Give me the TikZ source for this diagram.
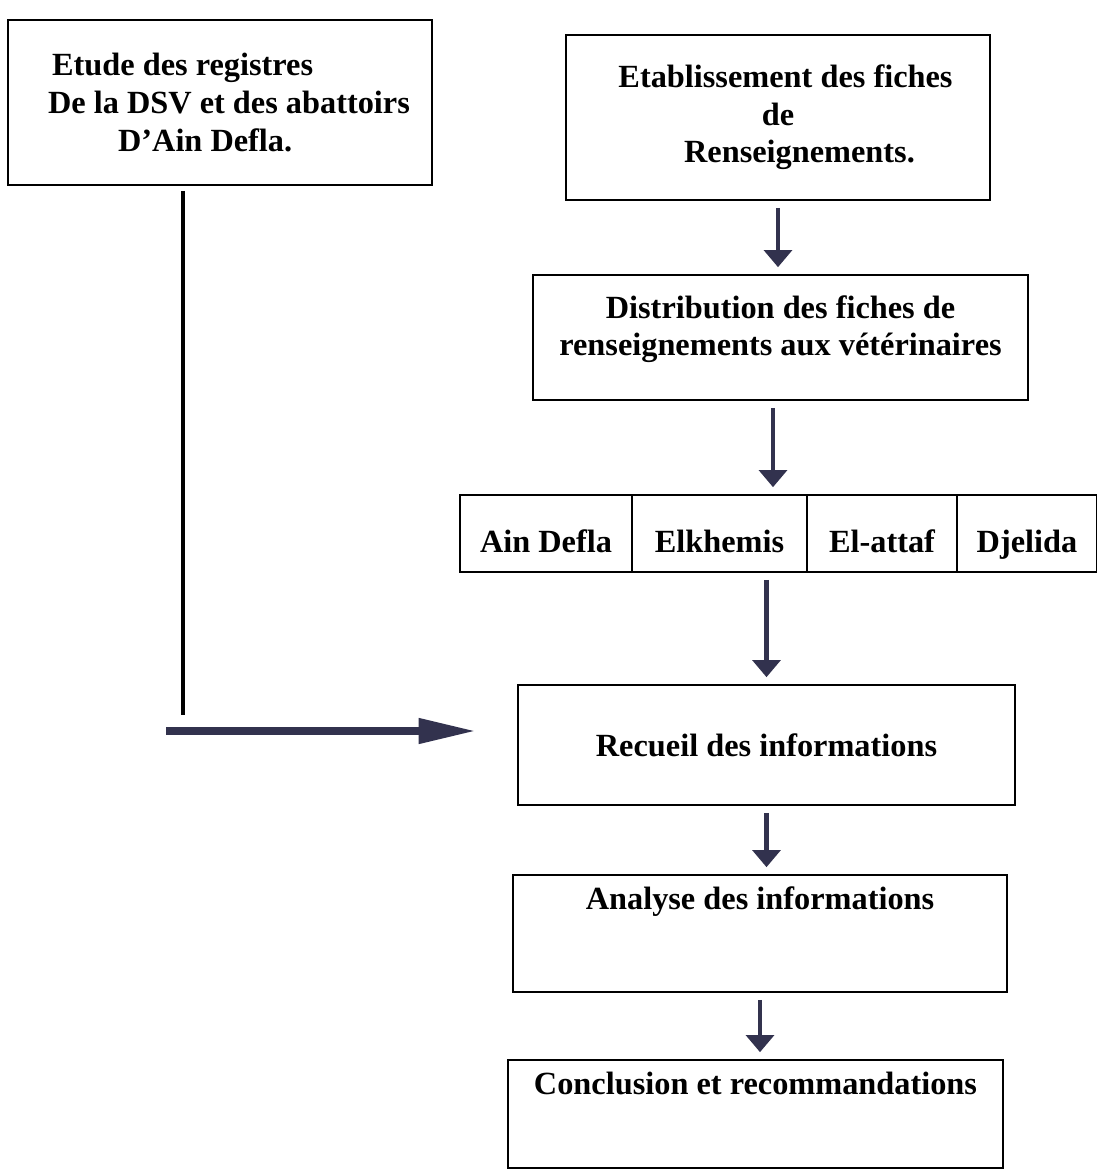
\documentclass[tikz,border=0pt]{standalone}
\usepackage{fontspec}
\setmainfont{Liberation Serif}
\usepackage{tikz}
\usetikzlibrary{arrows.meta}

\definecolor{flecheColor}{RGB}{50,50,78}

\begin{document}
\begin{tikzpicture}[x=0.02cm,y=-0.02cm,
  font=\fontsize{18.4}{21.4}\selectfont\bfseries,
  box/.style={rectangle,draw,line width=0.9pt,inner sep=2pt},
  cell/.style={box,minimum height=1.54cm,text height=0.9cm,text depth=0.16cm},
  arr/.style={draw=flecheColor,line width=2.6pt,shorten >=4pt,shorten <=4pt,
    -{Triangle[width=0.55cm,length=0.34cm]}},
  bigarr/.style={draw=flecheColor,line width=4.4pt,
    -{Triangle[width=0.48cm,length=1.15cm]}}]
  \useasboundingbox (0,0) rectangle (1097,1173);

  \node[box,minimum width=8.48cm,minimum height=3.3cm,align=left] (etude) at (220,102.5)
    {\hspace*{0.44cm}Etude des registres\\\hspace*{0.36cm}De la DSV et des abattoirs\\\hspace*{1.76cm}D'Ain Defla.};
  \node[box,minimum width=8.48cm,minimum height=3.3cm,align=center] (fiches) at (778,117.5)
    {\hspace*{0.3cm}Etablissement des fiches\\de\hspace*{0.4cm}\\\hspace*{0.86cm}Renseignements.};
  \node[box,minimum width=9.9cm,minimum height=2.5cm,
    label={[anchor=north,yshift=-0.3cm,align=center]north:Distribution des fiches de\\renseignements aux vétérinaires}] (distrib) at (780.5,337.5) {};

  % les quatre localites
  \node[cell,minimum width=3.44cm] (ain) at (546,533.5) {Ain Defla};
  \node[cell,minimum width=3.5cm] (khemis) at (719.5,533.5) {Elkhemis};
  \node[cell,minimum width=3.0cm] (attaf) at (882,533.5) {El-attaf};
  \node[cell,minimum width=2.8cm] (djelida) at (1027,533.5) {Djelida};

  \node[box,minimum width=9.94cm,minimum height=2.4cm] (recueil) at (766.5,745)
    {Recueil des informations};
  \node[box,minimum width=9.88cm,minimum height=2.34cm,
    label={[anchor=north,yshift=-0.12cm]north:Analyse des informations}] (analyse) at (760,933.5) {};
  \node[box,minimum width=9.9cm,minimum height=2.16cm,
    label={[anchor=north,yshift=-0.14cm]north:Conclusion et recommandations}] (conclusion) at (755.5,1114) {};

  \coordinate (coin) at (166,731);
  \coordinate (entree) at (476,731);

  \draw[arr] (fiches.south) -- (fiches.south |- distrib.north);
  \draw[arr] ([xshift=-0.15cm]distrib.south) -- ([xshift=-0.15cm]distrib.south |- khemis.north);
  \draw[arr] (recueil.north |- khemis.south) -- (recueil.north);
  \draw[arr] (recueil.south) -- (recueil.south |- analyse.north);
  \draw[arr] (analyse.south) -- (analyse.south |- conclusion.north);

  \draw[line width=2.4pt] ([xshift=-0.74cm,yshift=-0.1cm]etude.south) -- ([xshift=-0.74cm]etude.south |- 0,715);
  \draw[bigarr] (coin) -- (entree);
\end{tikzpicture}
\end{document}
